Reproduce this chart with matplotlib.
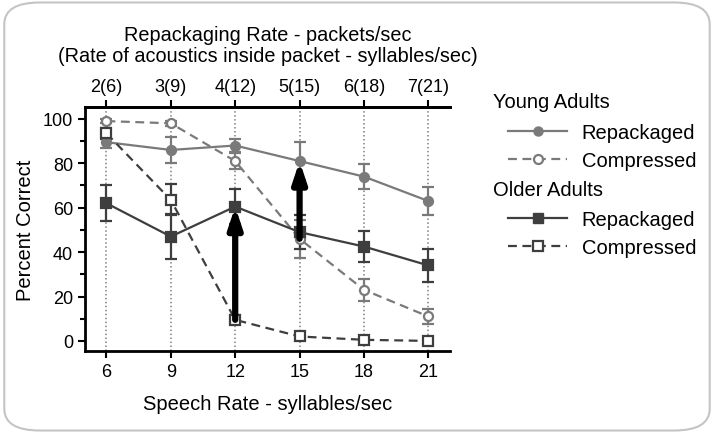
import numpy as np
import matplotlib.pyplot as plt
from matplotlib.patches import FancyBboxPatch
from matplotlib.lines import Line2D

plt.rcParams['font.family'] = ['Liberation Sans', 'DejaVu Sans']

rates = [6, 9, 12, 15, 18, 21]
top_labels = ['2(6)', '3(9)', '4(12)', '5(15)', '6(18)', '7(21)']

young_rep = [89.5, 86, 88, 81, 74, 63]
young_rep_err = [2.5, 6, 3, 8.5, 5.5, 6.5]
young_comp = [99, 98, 81, 46, 23, 11]
young_comp_err = [1, 1, 3.5, 8.5, 5, 3.5]
older_rep = [62, 47, 60.5, 49, 42.5, 34]
older_rep_err = [8, 10, 8, 7.5, 7, 7.5]
older_comp = [93.5, 63.5, 9.5, 2, 0.5, 0]
older_comp_err = [2.5, 7, 2, 1, 1, 1]

young_col = '#7a7a7a'
older_col = '#3e3e3e'
dash = (0, (4, 2.5))

fig = plt.figure(figsize=(7.14, 4.35), dpi=100)
ax = fig.add_axes([0.119, 0.191, 0.511, 0.561])

# rounded frame round the whole figure
frame = FancyBboxPatch((0.006, 0.008), 0.988, 0.984,
                       boxstyle='round,pad=0,rounding_size=0.05',
                       transform=fig.transFigure, fill=False,
                       edgecolor='#c4c4c4', linewidth=1.5)
fig.patches.append(frame)

for x in rates:
    ax.axvline(x, color='#808080', linestyle=(0, (1, 1.6)), linewidth=1.1, zorder=0)

kw = dict(linewidth=1.6, markersize=6.5, markeredgewidth=1.6, capsize=4.5,
          elinewidth=1.6, capthick=1.6)
ax.errorbar(rates, young_rep, yerr=young_rep_err, color=young_col, marker='o', **kw)
ax.errorbar(rates, young_comp, yerr=young_comp_err, color=young_col, linestyle=dash,
            marker='o', markerfacecolor='white', **kw)
ax.errorbar(rates, older_rep, yerr=older_rep_err, color=older_col, marker='s', **kw)
ax.errorbar(rates, older_comp, yerr=older_comp_err, color=older_col, linestyle=dash,
            marker='s', markerfacecolor='white', **kw)

# arrows: compressed -> repackaged
arrow = dict(arrowstyle='-|>,head_length=1.2,head_width=0.4',
             color='black', lw=4.5, shrinkA=0, shrinkB=0)
ax.annotate('', xy=(12, older_rep[2]), xytext=(12, older_comp[2]),
            arrowprops=arrow, zorder=5)
ax.annotate('', xy=(15, young_rep[3]), xytext=(15, young_comp[3]),
            arrowprops=arrow, zorder=5)

ax.set_xlim(5, 22)
ax.set_ylim(-4.5, 105.4)
ax.set_xticks(rates)
ax.set_yticks([0, 20, 40, 60, 80, 100])
ax.set_yticks([10, 30, 50, 70, 90], minor=True)
ax.spines['right'].set_visible(False)
for s in ['left', 'bottom', 'top']:
    ax.spines[s].set_linewidth(2)
ax.tick_params(axis='both', width=1.5, length=5, labelsize=13)
ax.tick_params(axis='y', which='minor', width=1.5, length=3.5)
ax.set_xlabel('Speech Rate - syllables/sec', fontsize=14.5, labelpad=10)
ax.set_ylabel('Percent Correct', fontsize=14.5, labelpad=6)

top = ax.secondary_xaxis('top')
top.set_xticks(rates)
top.set_xticklabels(top_labels)
top.tick_params(width=1.5, length=5, labelsize=13)
top.spines['top'].set_linewidth(2)
top.set_xlabel('Repackaging Rate - packets/sec\n(Rate of acoustics inside packet - syllables/sec)',
               fontsize=14.3, labelpad=12, linespacing=1.15)

# legend
handles_y = [Line2D([], [], color=young_col, lw=1.6, marker='o', ms=6.5),
             Line2D([], [], color=young_col, lw=1.6, ls=dash, marker='o', ms=6.5,
                    mfc='white', mew=1.6)]
handles_o = [Line2D([], [], color=older_col, lw=1.6, marker='s', ms=6.5),
             Line2D([], [], color=older_col, lw=1.6, ls=dash, marker='s', ms=6.5,
                    mfc='white', mew=1.6)]
fig.text(0.690, 0.7655, 'Young Adults', fontsize=14.5, va='center')
fig.text(0.690, 0.563, 'Older Adults', fontsize=14.5, va='center')
for hs, yy in [(handles_y, 0.715), (handles_o, 0.515)]:
    fig.legend(hs, ['Repackaged', 'Compressed'], loc='upper left',
               bbox_to_anchor=(0.712, yy), frameon=False, fontsize=14.5,
               handlelength=2.9, handletextpad=0.75, labelspacing=0.47,
               borderpad=0, borderaxespad=0)

fig.savefig('out.png', dpi=100)
